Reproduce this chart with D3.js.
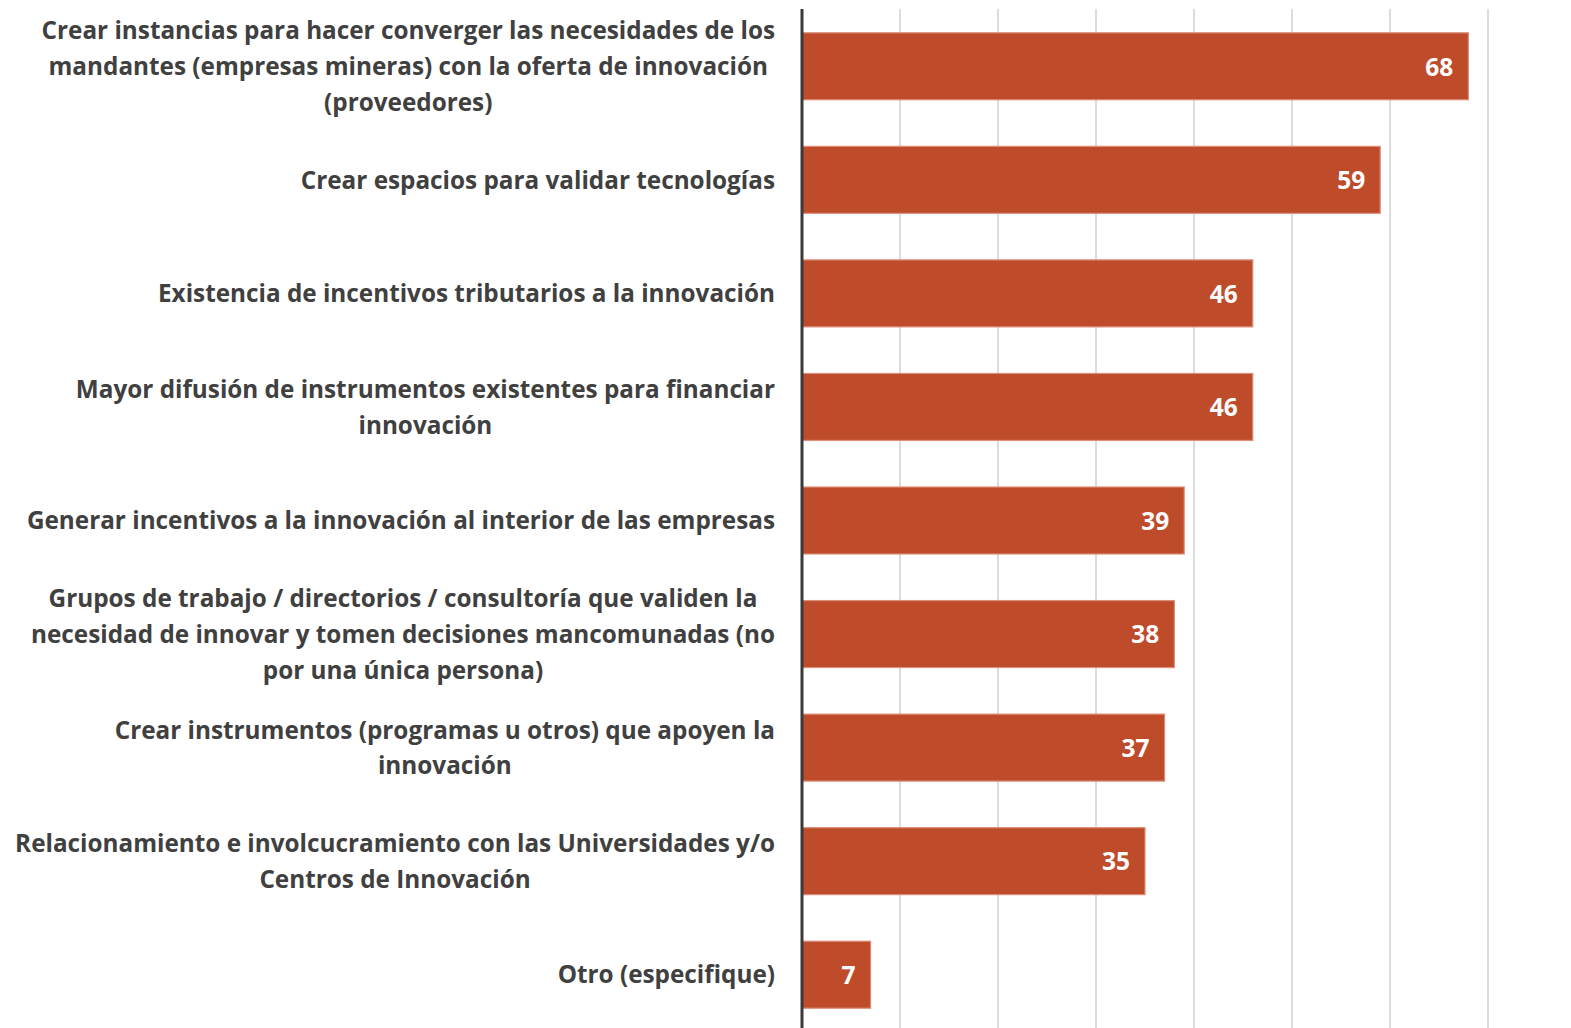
<!DOCTYPE html>
<html><head><meta charset="utf-8">
<script src="https://cdn.jsdelivr.net/npm/d3@7"></script>
<style>html,body{margin:0;padding:0;background:#fff;}svg{display:block;}</style>
</head><body>
<svg id="chart" width="1571" height="1028"></svg>
<script>
const categories = [
  ["Crear instancias para hacer converger las necesidades de los", "mandantes (empresas mineras) con la oferta de innovación", "(proveedores)"],
  ["Crear espacios para validar tecnologías"],
  ["Existencia de incentivos tributarios a la innovación"],
  ["Mayor difusión de instrumentos existentes para financiar", "innovación"],
  ["Generar incentivos a la innovación al interior de las empresas"],
  ["Grupos de trabajo / directorios / consultoría que validen la", "necesidad de innovar y tomen decisiones mancomunadas (no", "por una única persona)"],
  ["Crear instrumentos (programas u otros) que apoyen la", "innovación"],
  ["Relacionamiento e involcucramiento con las Universidades y/o", "Centros de Innovación"],
  ["Otro (especifique)"]
];
const values = [68, 59, 46, 46, 39, 38, 37, 35, 7];
const gridTicks = [10, 20, 30, 40, 50, 60, 70];

const svg = d3.select("#chart");
const plotLeft = 802, plotRight = 1488, plotTop = 9.5, plotBottom = 1031.5;
const x = d3.scaleLinear().domain([0, 70]).range([plotLeft, plotRight]);
const y = d3.scaleBand().domain(d3.range(values.length)).range([plotTop, plotBottom]).paddingInner(0.41).paddingOuter(0.205);

// gridlines
svg.append("g").selectAll("line").data(gridTicks).join("line")
  .attr("x1", d => x(d)).attr("x2", d => x(d))
  .attr("y1", 9).attr("y2", 1028)
  .attr("stroke", "#d0d0d0").attr("stroke-width", 1.5);

// bars
svg.append("g").selectAll("rect").data(values).join("rect")
  .attr("x", x(0)).attr("y", (d, i) => y(i))
  .attr("width", d => x(d) - x(0)).attr("height", y.bandwidth())
  .attr("fill", "#bd4827").attr("fill-opacity", 0.98)
  .attr("stroke", "#dc8f7a").attr("stroke-width", 1.2);

// value labels
svg.append("g").selectAll("text").data(values).join("text")
  .attr("x", d => x(d) - 15).attr("y", (d, i) => y(i) + y.bandwidth() / 2)
  .attr("dy", "0.38em").attr("text-anchor", "end")
  .attr("font-family", "'Open Sans', Lato, sans-serif").attr("font-weight", 700)
  .attr("font-size", 24.5).attr("fill", "#ffffff")
  .text(d => d);

// axis line
svg.append("line").attr("x1", plotLeft).attr("x2", plotLeft).attr("y1", 9).attr("y2", 1028)
  .attr("stroke", "#3a3a3a").attr("stroke-width", 3);

// category labels
const lineH = 35.7;
const labelRight = 775;
const lg = svg.append("g").attr("font-family", "'Open Sans', Lato, sans-serif")
  .attr("font-weight", 700).attr("font-size", 24.3).attr("fill", "#404040");
categories.forEach((lines, i) => {
  const t = lg.append("text").attr("text-anchor", "middle");
  const cy = y(i) + y.bandwidth() / 2;
  const spans = lines.map((l, k) => t.append("tspan")
    .attr("y", cy + (k - (lines.length - 1) / 2) * lineH)
    .attr("dy", "0.36em").text(l));
  let maxW = 0;
  spans.forEach(s => { maxW = Math.max(maxW, s.node().getComputedTextLength()); });
  spans.forEach(s => s.attr("x", labelRight - maxW / 2));
});
</script>
</body></html>
